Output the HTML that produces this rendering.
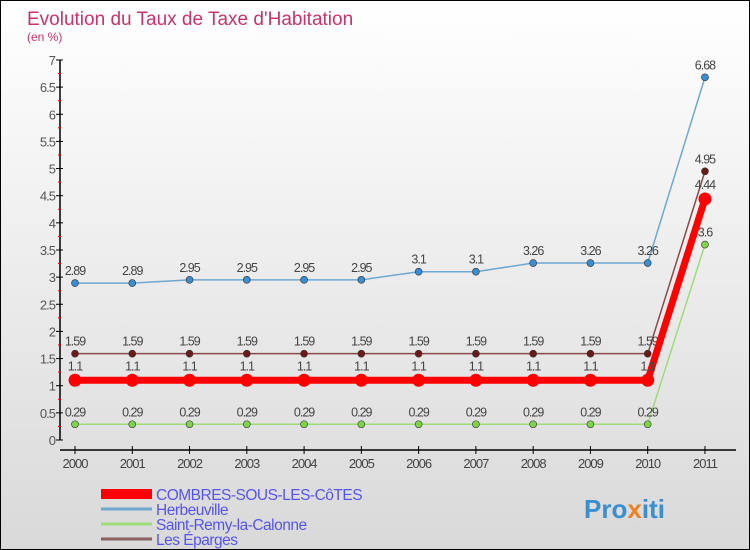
<!DOCTYPE html>
<html><head><meta charset="utf-8"><style>
body{margin:0}
#c{position:relative;width:748px;height:548px;border:1px solid #000;background:linear-gradient(#fff,#d9d9d9);font-family:"Liberation Sans",sans-serif;overflow:hidden}
</style></head><body>
<div id="c">
<svg id="s" width="748" height="548"></svg>
</div>
<script>
const years=["2000","2001","2002","2003","2004","2005","2006","2007","2008","2009","2010","2011"];
const combres=[1.1,1.1,1.1,1.1,1.1,1.1,1.1,1.1,1.1,1.1,1.1,4.44];
const herbeuville=[2.89,2.89,2.95,2.95,2.95,2.95,3.1,3.1,3.26,3.26,3.26,6.68];
const saintRemy=[0.29,0.29,0.29,0.29,0.29,0.29,0.29,0.29,0.29,0.29,0.29,3.6];
const eparges=[1.59,1.59,1.59,1.59,1.59,1.59,1.59,1.59,1.59,1.59,1.59,4.95];
const yTicks=["0","0.5","1","1.5","2","2.5","3","3.5","4","4.5","5","5.5","6","6.5","7"];
const legendNames=["COMBRES-SOUS-LES-CôTES","Herbeuville","Saint-Remy-la-Calonne","Les Éparges"];
const NS="http://www.w3.org/2000/svg",svg=document.getElementById('s');
function X(i){return 74+i*57.27}
function Y(v){return 439-v*54.29}
function el(t,a,txt){const e=document.createElementNS(NS,t);for(const k in a)e.setAttribute(k,a[k]);if(txt!=null)e.textContent=txt;svg.appendChild(e);return e}
let e;
e=el('text',{x:26,y:24,'font-size':19,fill:'#c8336a'},'Evolution du Taux de Taxe d\'Habitation');

e=el('text',{x:26,y:40,'font-size':12,fill:'#c8336a'},'(en %)');

e=el('line',{x1:59,y1:Y(7),x2:59,y2:Y(0),stroke:'#000','stroke-width':1.5});

e=el('line',{x1:59,y1:449,x2:735,y2:449,stroke:'#000','stroke-width':1.5});

yTicks.forEach((t,i)=>{const v=parseFloat(t);
 e=el('line',{x1:55,y1:Y(v),x2:62,y2:Y(v),stroke:'#000'});
 
 e=el('text',{x:54,y:Y(v)+5,'font-size':13,fill:'#555','text-anchor':'end','letter-spacing':'-1'},t);
 
 if(v<7){e=el('line',{x1:57,y1:Y(v+0.25),x2:60,y2:Y(v+0.25),stroke:'#e00'});
 }
});
years.forEach((y,i)=>{
 e=el('line',{x1:X(i),y1:445,x2:X(i),y2:453,stroke:'#000'});
 
 e=el('text',{x:X(i),y:467,'font-size':13,fill:'#444','text-anchor':'middle','letter-spacing':'-1'},y);
 
});
function series(data,color,dot,w,r,name,labelOff){
 e=el('polyline',{points:data.map((v,i)=>X(i)+','+Y(v)).join(' '),fill:'none',stroke:color,'stroke-width':w});
 
 data.forEach((v,i)=>{
  e=el('circle',{cx:X(i),cy:Y(v),r:r,fill:dot,stroke:'#333','stroke-width':r>4?0:0.6});
  
  e=el('text',{x:X(i),y:Y(v)-labelOff,'font-size':12.5,fill:'#444','text-anchor':'middle','letter-spacing':'-1'},String(v));
  
 });
}
series(herbeuville,'#6fa8d0','#3b8dd0',1.5,3.5,'herbeuville',8);
series(saintRemy,'#9edc7a','#7ed448',1.5,3.5,'saint-remy',8);
series(eparges,'#8a4a4a','#6b1a1a',1.5,3.5,'les-eparges',8);
series(combres,'#f00','#f00',7,6.5,'combres',10);
const lc=[['#f00',10],['#6fa8d0',3],['#9edc7a',3],['#8a6060',3]];
legendNames.forEach((n,i)=>{const y=493+i*15;
 e=el('line',{x1:100,y1:y,x2:151,y2:y,stroke:lc[i][0],'stroke-width':lc[i][1]});
 
 e=el('text',{x:155,y:y+6,'font-size':15.5,fill:'#5555ee','letter-spacing':'-0.5'},n);
 
});
e=el('text',{x:583,y:517,'font-size':26,'font-weight':'bold',fill:'#3a8fd0'});

e.innerHTML='<tspan>Pro</tspan><tspan fill="#f08020">x</tspan><tspan>iti</tspan>';
</script>
</body></html>
